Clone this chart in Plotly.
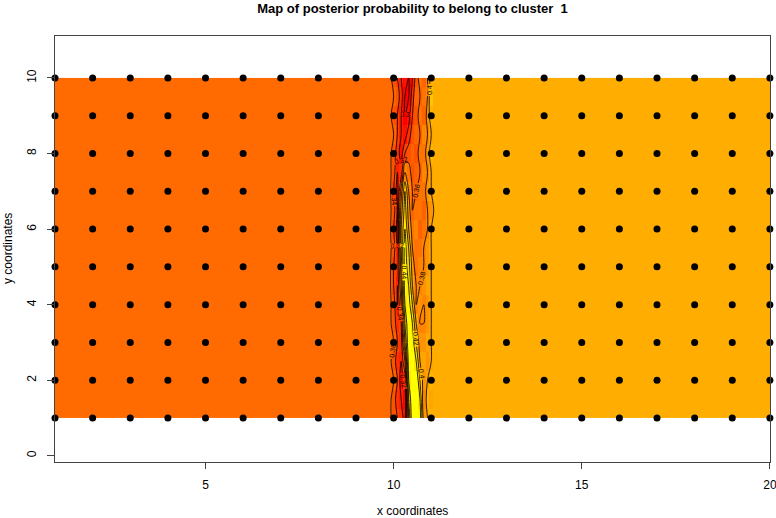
import plotly.graph_objects as go

# ---- data ----
point_x = list(range(1, 21))
point_y = list(range(1, 11))

left_value = 0.365    # posterior prob. for x < 10
right_value = 0.405   # posterior prob. for x > 11

band_x = [9.9, 10.0, 10.1, 10.2, 10.3, 10.4, 10.5, 10.6, 10.7, 10.8, 10.9, 11.0, 11.1]
band_y = [1.0, 1.5, 2.0, 2.5, 3.0, 3.5, 4.0, 4.5, 5.0, 5.5, 6.0, 6.5, 7.0, 7.5, 8.0, 8.5, 9.0, 9.5, 10.0]
band_z = [
    [0.365, 0.35, 0.34, 0.33, 0.31, 0.40, 0.46, 0.46, 0.45, 0.39, 0.40, 0.41, 0.405],
    [0.365, 0.35, 0.33, 0.32, 0.30, 0.42, 0.46, 0.46, 0.44, 0.38, 0.41, 0.40, 0.405],
    [0.365, 0.36, 0.34, 0.31, 0.33, 0.44, 0.46, 0.46, 0.42, 0.39, 0.40, 0.41, 0.405],
    [0.365, 0.35, 0.33, 0.32, 0.36, 0.45, 0.46, 0.44, 0.40, 0.40, 0.39, 0.40, 0.405],
    [0.365, 0.36, 0.34, 0.33, 0.40, 0.46, 0.45, 0.42, 0.39, 0.39, 0.40, 0.40, 0.405],
    [0.365, 0.35, 0.33, 0.34, 0.42, 0.46, 0.44, 0.40, 0.38, 0.38, 0.39, 0.40, 0.405],
    [0.365, 0.35, 0.32, 0.36, 0.44, 0.45, 0.42, 0.38, 0.39, 0.38, 0.39, 0.40, 0.405],
    [0.365, 0.34, 0.32, 0.38, 0.45, 0.44, 0.40, 0.38, 0.38, 0.39, 0.40, 0.40, 0.405],
    [0.365, 0.34, 0.33, 0.39, 0.45, 0.43, 0.39, 0.37, 0.38, 0.38, 0.39, 0.40, 0.405],
    [0.365, 0.35, 0.32, 0.40, 0.45, 0.42, 0.38, 0.37, 0.37, 0.38, 0.39, 0.40, 0.405],
    [0.365, 0.34, 0.31, 0.40, 0.44, 0.40, 0.37, 0.38, 0.36, 0.37, 0.38, 0.40, 0.405],
    [0.365, 0.35, 0.32, 0.39, 0.43, 0.39, 0.36, 0.37, 0.37, 0.36, 0.38, 0.39, 0.405],
    [0.365, 0.34, 0.31, 0.37, 0.42, 0.38, 0.36, 0.36, 0.37, 0.37, 0.39, 0.40, 0.405],
    [0.365, 0.35, 0.32, 0.33, 0.38, 0.37, 0.35, 0.36, 0.36, 0.38, 0.38, 0.40, 0.405],
    [0.365, 0.35, 0.33, 0.31, 0.34, 0.35, 0.36, 0.35, 0.37, 0.37, 0.39, 0.41, 0.405],
    [0.365, 0.36, 0.34, 0.32, 0.31, 0.33, 0.35, 0.36, 0.36, 0.38, 0.38, 0.40, 0.405],
    [0.365, 0.35, 0.34, 0.32, 0.30, 0.31, 0.34, 0.35, 0.37, 0.36, 0.39, 0.41, 0.405],
    [0.365, 0.36, 0.35, 0.33, 0.30, 0.30, 0.33, 0.36, 0.36, 0.37, 0.38, 0.42, 0.405],
    [0.365, 0.35, 0.34, 0.32, 0.31, 0.30, 0.32, 0.35, 0.37, 0.36, 0.38, 0.41, 0.405],
]

x_ticks = [5, 10, 15, 20]
y_ticks = [0, 2, 4, 6, 8, 10]

# ---- full grid (flanks are constant) ----
grid_x = [1] + band_x + [20]
grid_z = [[left_value] + row + [right_value] for row in band_z]

def edges(c):
    e = [c[0]]
    for a, b in zip(c[:-1], c[1:]):
        e.append((a + b) / 2)
    e.append(c[-1])
    return e

heat_scale = [[0, "#FF0000"], [1, "#FFFF00"]]

fig = go.Figure()
fig.add_trace(go.Heatmap(
    x=edges(grid_x), y=edges(band_y), z=grid_z,
    zmin=0.30, zmax=0.455, colorscale=heat_scale, showscale=False,
    zsmooth=False, hoverinfo="skip"))
fig.add_trace(go.Contour(
    x=grid_x, y=band_y, z=grid_z,
    autocontour=False,
    contours=dict(coloring="lines", start=0.30, end=0.46, size=0.02,
                  showlabels=True,
                  labelfont=dict(size=7, color="black", family="Liberation Sans")),
    colorscale=[[0, "black"], [1, "black"]],
    line=dict(width=0.8, color="black"), showscale=False, hoverinfo="skip"))

px, py = [], []
for yy in point_y:
    for xx in point_x:
        px.append(xx)
        py.append(yy)
fig.add_trace(go.Scatter(x=px, y=py, mode="markers",
                         marker=dict(color="black", size=7), hoverinfo="skip",
                         cliponaxis=False))

fig.update_layout(
    width=776, height=518,
    margin=dict(l=55, r=6, t=36, b=56, autoexpand=False),
    paper_bgcolor="white", plot_bgcolor="white",
    showlegend=False,
    font=dict(family="Liberation Sans, Arial, sans-serif", size=12, color="black"),
    title=dict(text="<b>Map of posterior probability to belong to cluster  1</b>",
               x=0.5, xref="paper", y=1 - 8 / 518, yanchor="middle",
               font=dict(size=13)),
    annotations=[
        dict(text="x coordinates", xref="paper", yref="paper", x=0.5, y=-49 / 426,
             yanchor="middle", xanchor="center", showarrow=False, font=dict(size=12)),
        dict(text="y coordinates", xref="paper", yref="paper", x=-47 / 715, y=0.5,
             yanchor="middle", xanchor="center", textangle=-90, showarrow=False,
             font=dict(size=12)),
    ],
)
fig.update_xaxes(range=[1, 20.003], tickvals=x_ticks, ticks="outside", ticklen=6,
                 tickcolor="#444", showline=True, linecolor="#444", mirror=True,
                 showgrid=False, zeroline=False, automargin=False,
                 ticklabelstandoff=6, ticklabeloverflow="allow")
fig.update_yaxes(range=[-0.164, 11.11], tickvals=y_ticks, ticks="outside", ticklen=7,
                 tickcolor="#444", showline=True, linecolor="#444", mirror=True,
                 showgrid=False, zeroline=False, tickangle=-90, automargin=False,
                 ticklabelstandoff=6, ticklabeloverflow="allow")

fig.write_html("out.html", config={"displayModeBar": False},
               post_script="document.body.style.margin='0';document.body.style.overflow='hidden';")
